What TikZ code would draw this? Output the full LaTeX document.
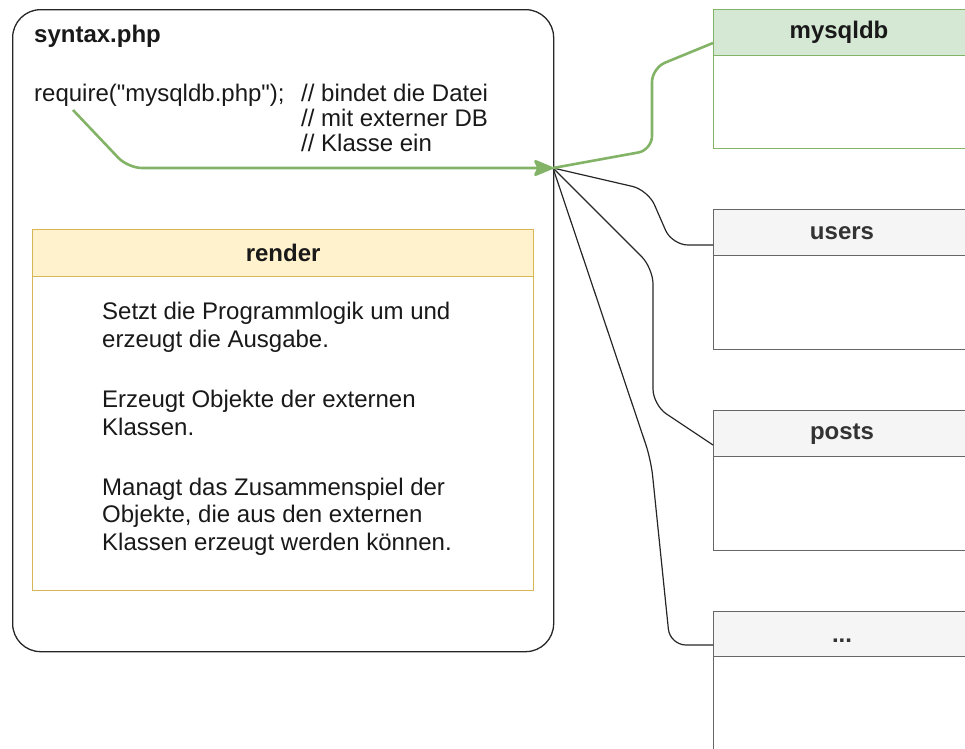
\documentclass[tikz,border=0pt]{standalone}
\usepackage{fontspec}
\setmainfont{Liberation Sans}
\usetikzlibrary{arrows.meta}
\definecolor{gfill}{HTML}{D5E8D4}
\definecolor{gline}{HTML}{82B366}
\definecolor{yfill}{HTML}{FFF2CC}
\definecolor{yline}{HTML}{D6B656}
\definecolor{hfill}{HTML}{F5F5F5}
\definecolor{hline}{HTML}{666666}
\definecolor{htext}{HTML}{333333}
\newcommand{\sq}{\XeTeXglyph\XeTeXcharglyph"22\relax}
\tikzset{
  txt/.style={inner sep=0pt, font=\fontsize{24}{25}\selectfont, align=left, text=black!90},
  rtxt/.style={inner sep=0pt, font=\fontsize{24}{27.5}\selectfont, align=left, text=black!90},
  boldtxt/.style={inner sep=0pt, font=\fontsize{24}{26}\selectfont\bfseries, text=black!90},
  hdr/.style={draw=hline, fill=hfill, line width=1.3pt, anchor=north west, minimum width=258pt, minimum height=46pt, inner sep=0pt},
  tbody/.style={draw=hline, fill=white, line width=1.3pt, anchor=north west, minimum width=258pt, inner sep=0pt},
  conn/.style={draw=black!85, line width=1.2pt, rounded corners=16pt},
  gconn/.style={draw=gline, line width=2.6pt, rounded corners=14pt},
}
\begin{document}
\begin{tikzpicture}[x=1pt,y=-1pt]
\useasboundingbox (0,0) rectangle (965,748);
\clip (0,0) rectangle (965,748);

% outer file box
\node[draw=black!85, line width=1.3pt, rounded corners=28pt, anchor=north west,
      minimum width=541pt, minimum height=642pt, inner sep=0pt] (syntax) at (12,9) {};
\node[boldtxt, anchor=base west] (title) at (34,42) {syntax.php};
\node[txt, anchor=base west] (req) at (34,101) {require(\sq mysqldb.php\sq);};
\node[txt, anchor=base west] (cmt) at (301,151) {// bindet die Datei\\// mit externer DB\\// Klasse ein};

% render box
\node[draw=yline, fill=yfill, line width=1.3pt, anchor=north west, minimum width=501pt, minimum height=47pt, inner sep=0pt] (rh) at (32,229) {};
\node[boldtxt] at (rh.center) {render};
\node[draw=yline, fill=white, line width=1.3pt, anchor=north west, minimum width=501pt, minimum height=314pt, inner sep=0pt] (rb) at (32,276) {};
\node[rtxt, anchor=base west] (p1) at (102,347) {Setzt die Programmlogik um und\\erzeugt die Ausgabe.};
\node[rtxt, anchor=base west] (p2) at (102,435) {Erzeugt Objekte der externen\\Klassen.};
\node[rtxt, anchor=base west] (p3) at (102,550) {Managt das Zusammenspiel der\\Objekte, die aus den externen\\Klassen erzeugt werden können.};

% tables
\node[hdr, draw=gline, fill=gfill] (mh) at (713,9) {};
\node[boldtxt] at (839,32) {mysqldb};
\node[tbody, draw=gline, minimum height=93pt] (mb) at (713,55) {};

\node[hdr] (uh) at (713,209) {};
\node[boldtxt, text=htext] at (842,233) {users};
\node[tbody, minimum height=94pt] (ub) at (713,255) {};

\node[hdr] (ph) at (713,410) {};
\node[boldtxt, text=htext] at (842,434) {posts};
\node[tbody, minimum height=94pt] (pb) at (713,456) {};

\node[hdr, minimum height=45pt] (dh) at (713,611) {};
\node[boldtxt, text=htext] at (842,641) {...};
\node[tbody, minimum height=110pt] (db) at (713,656) {};

% connectors
\coordinate (J) at (553,168);
\coordinate (rs) at (73,110);
\draw[conn] (J) -- (648,190) -- (672,245) -- (uh.west |- 0,245);
\draw[conn] (J) -- (653,268) -- (653,405) -- (ph.west |- 0,445);
\draw[conn] (J) -- (651,460) -- (670,645) -- (dh.west |- 0,645);
\draw[gconn] (J) -- (652,150) -- (652,68) -- (mh.west |- 0,43);
\draw[gconn, -{Stealth[length=22pt, width=18pt, inset=4pt, round]}] (rs) -- (128,168) -- (J);
\end{tikzpicture}
\end{document}
